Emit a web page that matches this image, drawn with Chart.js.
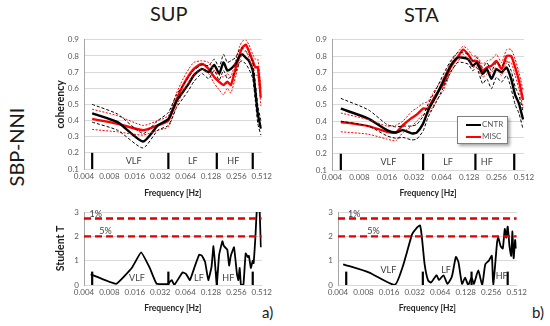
<!DOCTYPE html>
<html>
<head>
<meta charset="utf-8">
<script src="https://cdn.jsdelivr.net/npm/chart.js@4/dist/chart.umd.min.js"></script>
<style>
  body { margin: 0; background: #fff; width: 550px; height: 326px; position: relative; overflow: hidden; font-family: Lato, "Open Sans", sans-serif; }
  .box { position: absolute; }
  .txt { position: absolute; color: #1a1a1a; white-space: nowrap; }
  #legend { position: absolute; left: 457px; top: 116px; width: 49px; height: 26px; border: 1px solid #7f7f7f; background: #fff; box-shadow: 2px 2px 3px rgba(0,0,0,0.35); font-size: 8px; color: #595959; }
  #legend .row { position: absolute; left: 8px; height: 10px; line-height: 10px; }
  #legend .row i { display: inline-block; width: 15px; height: 2px; vertical-align: middle; margin-right: 1px; }
</style>
</head>
<body>
<div class="txt" style="left:150px;top:1px;font-size:20px;">SUP</div>
<div class="txt" style="left:404px;top:2px;font-size:20px;">STA</div>
<div class="txt" style="left:-23px;top:135px;font-size:20px;transform:rotate(-90deg);">SBP-NNI</div>
<div class="txt" style="left:262px;top:303px;font-size:15px;">a)</div>
<div class="txt" style="left:532px;top:303px;font-size:15px;">b)</div>

<div class="box" style="left:50px;top:30px;width:225px;height:170px"><canvas id="sup-coh"></canvas></div>
<div class="box" style="left:300px;top:30px;width:240px;height:170px"><canvas id="sta-coh"></canvas></div>
<div class="box" style="left:50px;top:200px;width:225px;height:115px"><canvas id="sup-t"></canvas></div>
<div class="box" style="left:300px;top:200px;width:230px;height:115px"><canvas id="sta-t"></canvas></div>

<div id="legend">
  <div class="row" style="top:2px"><i style="background:#000"></i>CNTR</div>
  <div class="row" style="top:14px"><i style="background:#f00"></i>MISC</div>
</div>

<script>
const X_TICKS = [0.004, 0.008, 0.016, 0.032, 0.064, 0.128, 0.256, 0.512];
const BAND_EDGES = [0.005, 0.04, 0.15, 0.4];
const BAND_NAMES = ["VLF", "LF", "HF"];

// SUP coherency
const F_SUP = [0.005, 0.01, 0.02, 0.03, 0.04, 0.05, 0.06, 0.07, 0.08, 0.1, 0.12, 0.14, 0.16, 0.18, 0.2, 0.22, 0.25, 0.28, 0.3, 0.33, 0.36, 0.4, 0.43, 0.46, 0.5];
const SUP_CNTR = [0.445, 0.39, 0.27, 0.37, 0.41, 0.52, 0.58, 0.63, 0.68, 0.72, 0.70, 0.745, 0.69, 0.76, 0.71, 0.72, 0.75, 0.80, 0.81, 0.79, 0.77, 0.71, 0.58, 0.44, 0.35];
const SUP_CNTR_HI = [0.50, 0.44, 0.32, 0.40, 0.45, 0.56, 0.62, 0.67, 0.71, 0.745, 0.74, 0.78, 0.73, 0.81, 0.76, 0.77, 0.79, 0.84, 0.85, 0.83, 0.81, 0.76, 0.63, 0.49, 0.40];
const SUP_CNTR_LO = [0.39, 0.34, 0.23, 0.34, 0.37, 0.48, 0.54, 0.59, 0.64, 0.69, 0.66, 0.71, 0.65, 0.71, 0.66, 0.67, 0.70, 0.76, 0.77, 0.75, 0.72, 0.66, 0.52, 0.38, 0.31];
const SUP_MISC = [0.41, 0.38, 0.34, 0.37, 0.40, 0.53, 0.62, 0.68, 0.72, 0.75, 0.72, 0.67, 0.64, 0.62, 0.64, 0.62, 0.72, 0.81, 0.85, 0.87, 0.83, 0.77, 0.73, 0.73, 0.54];
const SUP_MISC_HI = [0.47, 0.43, 0.37, 0.40, 0.43, 0.57, 0.66, 0.72, 0.76, 0.77, 0.76, 0.71, 0.68, 0.67, 0.69, 0.67, 0.77, 0.86, 0.89, 0.90, 0.87, 0.81, 0.78, 0.78, 0.60];
const SUP_MISC_LO = [0.345, 0.33, 0.31, 0.34, 0.36, 0.49, 0.58, 0.64, 0.68, 0.72, 0.69, 0.63, 0.59, 0.56, 0.60, 0.57, 0.67, 0.77, 0.81, 0.83, 0.79, 0.72, 0.68, 0.68, 0.49];

// STA coherency
const F_STA = [0.005, 0.01, 0.016, 0.02, 0.024, 0.03, 0.034, 0.04, 0.045, 0.05, 0.055, 0.067, 0.08, 0.095, 0.11, 0.125, 0.14, 0.155, 0.18, 0.2, 0.225, 0.255, 0.29, 0.33, 0.37, 0.41, 0.45, 0.5];
const STA_CNTR = [0.477, 0.416, 0.345, 0.33, 0.345, 0.325, 0.33, 0.385, 0.46, 0.51, 0.55, 0.65, 0.74, 0.79, 0.79, 0.78, 0.74, 0.76, 0.69, 0.72, 0.66, 0.72, 0.70, 0.73, 0.66, 0.56, 0.51, 0.41];
const STA_CNTR_HI = [0.54, 0.47, 0.38, 0.365, 0.37, 0.37, 0.38, 0.43, 0.50, 0.55, 0.59, 0.69, 0.77, 0.82, 0.82, 0.81, 0.77, 0.79, 0.73, 0.76, 0.71, 0.76, 0.74, 0.77, 0.71, 0.61, 0.56, 0.46];
const STA_CNTR_LO = [0.40, 0.37, 0.31, 0.295, 0.30, 0.285, 0.29, 0.34, 0.42, 0.47, 0.51, 0.61, 0.70, 0.76, 0.76, 0.75, 0.71, 0.73, 0.63, 0.66, 0.60, 0.67, 0.64, 0.68, 0.60, 0.50, 0.45, 0.35];
const STA_MISC = [0.395, 0.37, 0.335, 0.33, 0.375, 0.42, 0.44, 0.477, 0.477, 0.52, 0.56, 0.63, 0.73, 0.79, 0.84, 0.81, 0.77, 0.77, 0.71, 0.73, 0.74, 0.77, 0.72, 0.80, 0.80, 0.73, 0.65, 0.53];
const STA_MISC_HI = [0.45, 0.41, 0.37, 0.375, 0.40, 0.46, 0.48, 0.51, 0.52, 0.56, 0.60, 0.67, 0.76, 0.82, 0.86, 0.84, 0.80, 0.80, 0.75, 0.77, 0.78, 0.81, 0.76, 0.84, 0.84, 0.78, 0.70, 0.59];
const STA_MISC_LO = [0.335, 0.32, 0.29, 0.28, 0.33, 0.37, 0.40, 0.44, 0.44, 0.48, 0.52, 0.59, 0.70, 0.76, 0.81, 0.78, 0.73, 0.74, 0.67, 0.69, 0.70, 0.73, 0.68, 0.76, 0.76, 0.68, 0.60, 0.48];

// Student T
const T_SUP_F = [0.0048, 0.0096, 0.0148, 0.019, 0.024, 0.029, 0.04, 0.042, 0.044, 0.047, 0.059, 0.065, 0.072, 0.082, 0.093, 0.1, 0.109, 0.119, 0.13, 0.137, 0.145, 0.15, 0.16, 0.175, 0.182, 0.2, 0.21, 0.22, 0.24, 0.26, 0.27, 0.28, 0.29, 0.31, 0.33, 0.35, 0.36, 0.38, 0.4, 0.41, 0.43, 0.45, 0.48, 0.5];
const T_SUP = [0.44, 0.05, 0.71, 1.34, 0.71, 0.05, 0.05, 0.15, 0.2, 0, 0.52, 0.45, 0.2, 0.75, 1.25, 1.2, 0.95, 0.2, 0.75, 1.6, 0.6, 0, 1.25, 1.8, 1.6, 1.45, 0.8, 1.2, 1.55, 0.45, 0.2, 0.7, 0, 0, 1.3, 1.15, 1.2, 0.7, 1.0, 0.9, 1.95, 3.2, 3.2, 1.55];
const T_STA_F = [0.0046, 0.0092, 0.0186, 0.023, 0.026, 0.03, 0.033, 0.037, 0.039, 0.042, 0.046, 0.05, 0.058, 0.062, 0.07, 0.078, 0.088, 0.098, 0.105, 0.116, 0.126, 0.137, 0.15, 0.16, 0.18, 0.2, 0.218, 0.24, 0.26, 0.27, 0.3, 0.31, 0.33, 0.35, 0.37, 0.385, 0.4, 0.42, 0.44, 0.455, 0.47, 0.49, 0.5];
const T_STA = [0.85, 0.52, 0, 0.72, 1.35, 2.1, 2.3, 2.45, 1.95, 0.85, 0.2, 0.1, 0.4, 0.2, 0.4, 0.05, 0.35, 1.15, 0.95, 0.05, 0.3, 0, 0.3, 0.05, 0.6, 0, 0.85, 1.0, 1.2, 0, 1.75, 1.95, 1.6, 1.5, 2.3, 1.95, 2.4, 1.6, 1.2, 2.2, 1.1, 1.85, 1.5];
const T_LIMITS = [2.0, 2.73];
const T_LIMIT_NAMES = ["5%", "1%"];

const pts = (fs, ys) => fs.map((f, i) => ({ x: f, y: ys[i] }));

function ciLine(fs, ys, color, dash) {
  return { data: pts(fs, ys), borderColor: color, borderWidth: 1, borderDash: dash, pointRadius: 0, tension: 0.2 };
}
function meanLine(fs, ys, color) {
  return { data: pts(fs, ys), borderColor: color, borderWidth: 2.4, pointRadius: 0, tension: 0.2 };
}
function limitLine(v) {
  return { data: [{ x: 0.004, y: v }, { x: 0.512, y: v }], borderColor: "#e00000", borderWidth: 2.4, borderDash: [7, 4], pointRadius: 0 };
}

// band edges + labels, positioned through the chart scales
function bandsPlugin(o) {
  return {
    id: "bands",
    afterDatasetsDraw(chart) {
      const { ctx, scales: { x, y } } = chart;
      ctx.save();
      ctx.strokeStyle = "#000";
      ctx.lineWidth = 2.2;
      BAND_EDGES.forEach((f) => {
        const px = x.getPixelForValue(f);
        ctx.beginPath();
        ctx.moveTo(px, y.getPixelForValue(o.low));
        ctx.lineTo(px, y.getPixelForValue(o.high));
        ctx.stroke();
      });
      ctx.fillStyle = "#404040";
      ctx.font = "9px Lato";
      ctx.textAlign = "center";
      ctx.textBaseline = "middle";
      BAND_NAMES.forEach((t, i) => {
        ctx.fillText(t, x.getPixelForValue(o.at[i]), y.getPixelForValue(o.ly[i]));
      });
      if (o.limits) {
        T_LIMIT_NAMES.forEach((t, i) => {
          ctx.fillText(t, x.getPixelForValue(o.limits[i]), y.getPixelForValue(T_LIMITS[i] + 0.2));
        });
      }
      ctx.restore();
    },
  };
}

function xAxis(h) {
  return {
    type: "logarithmic",
    min: 0.004,
    max: 0.512,
    afterBuildTicks: (s) => { s.ticks = X_TICKS.map((v) => ({ value: v })); },
    afterFit: (s) => { s.height = h; },
    ticks: { color: "#595959", font: { size: 8, family: "Lato" }, maxRotation: 0, autoSkip: false, padding: 3, callback: (v) => String(v) },
    grid: { display: false, drawTicks: false },
    border: { color: "#d9d9d9" },
    title: { display: true, text: "Frequency [Hz]", color: "#262626", font: { size: 8.5, weight: "bold", family: "Lato" }, padding: { top: 2, bottom: 2 } },
  };
}

function yAxis(min, max, step, w, title) {
  return {
    min, max,
    afterFit: (s) => { s.width = w; },
    ticks: { stepSize: step, color: "#595959", font: { size: 8, family: "Lato" }, padding: 5, callback: (v) => (step < 1 ? v.toFixed(1) : String(v)) },
    grid: { color: "#d9d9d9", drawTicks: false },
    border: { color: "#a6a6a6" },
    title: { display: !!title, text: title || "", color: "#1a1a1a", font: { size: 10.5, weight: "bold", family: "Lato" }, padding: { top: 4 } },
  };
}

function makeChart(id, datasets, scales, pad, bands) {
  return new Chart(document.getElementById(id).getContext("2d"), {
    type: "line",
    data: { datasets },
    options: {
      responsive: true,
      maintainAspectRatio: false,
      animation: false,
      layout: { padding: pad },
      plugins: { legend: { display: false }, tooltip: { enabled: false } },
      scales,
    },
    plugins: [bandsPlugin(bands)],
  });
}

makeChart("sup-coh", [
  ciLine(F_SUP, SUP_CNTR_HI, "#000", [3, 2]),
  ciLine(F_SUP, SUP_CNTR_LO, "#000", [3, 2]),
  ciLine(F_SUP, SUP_MISC_HI, "#f00", [2, 1.5]),
  ciLine(F_SUP, SUP_MISC_LO, "#f00", [2, 1.5]),
  meanLine(F_SUP, SUP_CNTR, "#000"),
  meanLine(F_SUP, SUP_MISC, "#f00"),
], { x: xAxis(31), y: yAxis(0.1, 0.9, 0.1, 34, "coherency") },
  { top: 8, right: 12, left: 0, bottom: 0 },
  { low: 0.1, high: 0.2, at: [0.0155, 0.078, 0.235], ly: [0.15, 0.15, 0.15] });

makeChart("sta-coh", [
  ciLine(F_STA, STA_CNTR_HI, "#000", [3, 2]),
  ciLine(F_STA, STA_CNTR_LO, "#000", [3, 2]),
  ciLine(F_STA, STA_MISC_HI, "#f00", [2, 1.5]),
  ciLine(F_STA, STA_MISC_LO, "#f00", [2, 1.5]),
  meanLine(F_STA, STA_CNTR, "#000"),
  meanLine(F_STA, STA_MISC, "#f00"),
], { x: xAxis(30), y: yAxis(0.1, 0.9, 0.1, 32, "") },
  { top: 9, right: 16, left: 0, bottom: 0 },
  { low: 0.1, high: 0.2, at: [0.0166, 0.075, 0.2], ly: [0.15, 0.15, 0.15] });

makeChart("sup-t", [
  limitLine(T_LIMITS[0]),
  limitLine(T_LIMITS[1]),
  { data: pts(T_SUP_F, T_SUP), borderColor: "#000", borderWidth: 1.8, pointRadius: 0, tension: 0.1 },
], { x: xAxis(30), y: yAxis(0, 3, 1, 34, "Student T") },
  { top: 12, right: 11, left: 0, bottom: 0 },
  { low: 0, high: 0.55, at: [0.017, 0.092, 0.205], ly: [0.3, 0.3, 0.3], limits: [0.0072, 0.0055] });

makeChart("sta-t", [
  limitLine(T_LIMITS[0]),
  limitLine(T_LIMITS[1]),
  { data: pts(T_STA_F, T_STA), borderColor: "#000", borderWidth: 1.8, pointRadius: 0, tension: 0.2 },
], { x: xAxis(30), y: yAxis(0, 3, 1, 38, "") },
  { top: 12, right: 13, left: 0, bottom: 0 },
  { low: 0, high: 0.55, at: [0.0157, 0.075, 0.34], ly: [0.6, 0.6, 0.37], limits: [0.0105, 0.0062] });
</script>
</body>
</html>
